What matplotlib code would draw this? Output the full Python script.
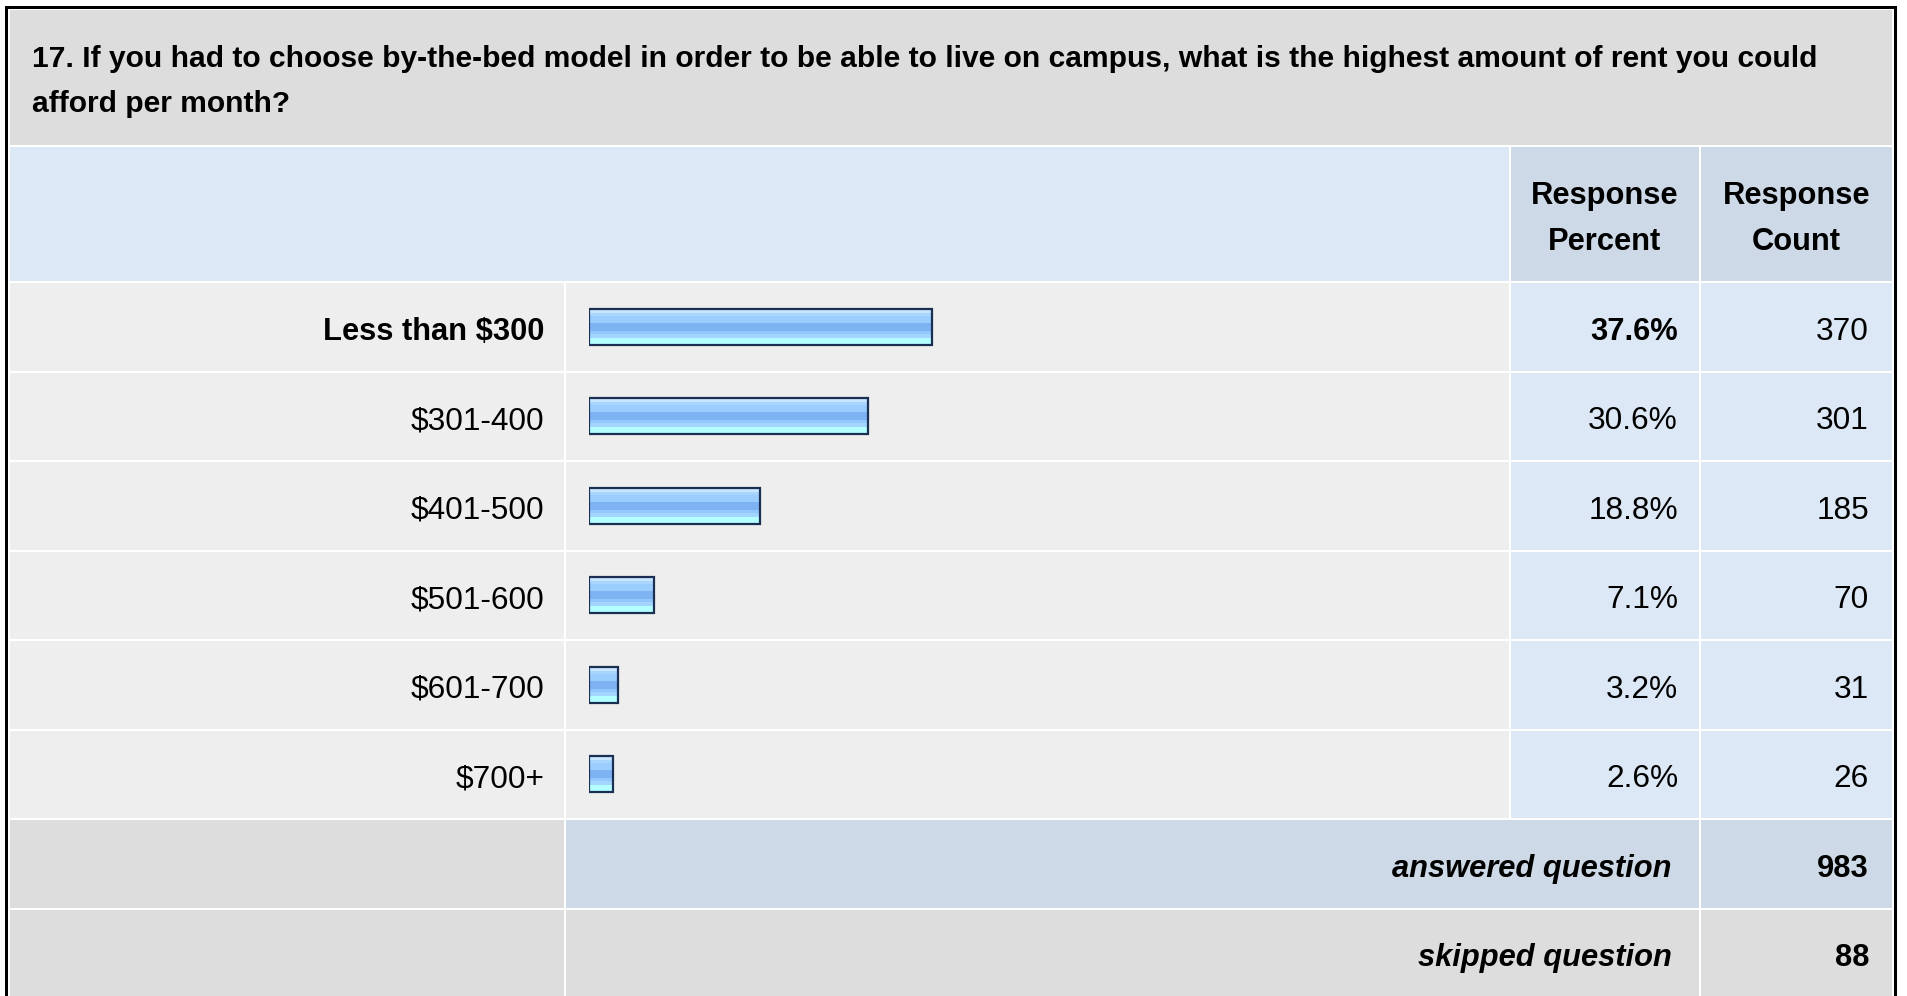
import numpy as np
import matplotlib
matplotlib.use("Agg")
import matplotlib.pyplot as plt
from matplotlib.patches import Rectangle

# survey results
question = ["17. If you had to choose by-the-bed model in order to be able to live on campus, what is the highest amount of rent you could",
            "afford per month?"]
options = ["Less than $300", "$301-400", "$401-500", "$501-600", "$601-700", "$700+"]
percent = [37.6, 30.6, 18.8, 7.1, 3.2, 2.6]
counts = [370, 301, 185, 70, 31, 26]
answered = 983
skipped = 88

W, H = 1907, 996
FONT = "Liberation Sans"

GRAY = "#dddddd"
ROW = "#eeeeee"
LBLUE = "#dce8f5"
DBLUE = "#cdd9e6"

fig = plt.figure(figsize=(W / 100, H / 100), dpi=100)
fig.patch.set_facecolor("white")
ax = fig.add_axes([0, 0, 1, 1])
ax.set_xlim(0, W)
ax.set_ylim(H, 0)
ax.axis("off")


def cell(x0, x1, y0, y1, color):
    ax.add_patch(Rectangle((x0, y0), x1 - x0, y1 - y0, facecolor=color, lw=0))


def txt(x, y, s, ha="left", weight="normal", style="normal", size=None):
    if size is None:
        size = 22.2 if weight == "bold" else 22.8
    ax.text(x, y, s, ha=ha, va="baseline", fontsize=size, family=FONT,
            fontweight=weight, fontstyle=style, color="#000000")


# outer frame
cell(5, 1897, 6, H + 20, "black")
cell(8, 1894, 9, H + 20, "white")

# column edges
c_lab = (10, 564)
c_bar = (566, 1509)
c_pct = (1511, 1699)
c_cnt = (1701, 1892)
pitch = 89.5
top = 283

# title
cell(10, 1892, 10, 145, GRAY)
txt(32, 67, question[0], weight="bold", size=21.6)
txt(32, 112, question[1], weight="bold", size=21.6)

# header
cell(10, 1509, 147, 281, LBLUE)
cell(*c_pct, 147, 281, DBLUE)
cell(*c_cnt, 147, 281, DBLUE)
for c, word in [(c_pct, "Percent"), (c_cnt, "Count")]:
    xc = (c[0] + c[1]) / 2
    txt(xc, 204, "Response", ha="center", weight="bold")
    txt(xc, 250, word, ha="center", weight="bold")

# data rows
top_idx = int(np.argmax(percent))
for i, (lab, p, n) in enumerate(zip(options, percent, counts)):
    y0 = top + i * pitch
    y1 = y0 + pitch - 2
    cell(*c_lab, y0, y1, ROW)
    cell(*c_bar, y0, y1, ROW)
    cell(*c_pct, y0, y1, LBLUE)
    cell(*c_cnt, y0, y1, LBLUE)
    base = (y0 + y1) / 2 + 13
    w = "bold" if i == top_idx else "normal"
    txt(544, base, lab, ha="right", weight=w)
    txt(1678, base, f"{p}%", ha="right", weight=w)
    txt(1869, base, str(n), ha="right")

# summary rows
y0 = top + len(options) * pitch
cell(*c_lab, y0, y0 + pitch - 2, GRAY)
cell(c_bar[0], c_pct[1], y0, y0 + pitch - 2, DBLUE)
cell(*c_cnt, y0, y0 + pitch - 2, DBLUE)
base = y0 + (pitch - 2) / 2 + 13
txt(1672, base, "answered question", ha="right", weight="bold", style="italic")
txt(1869, base, str(answered), ha="right", weight="bold")

y0 += pitch
cell(*c_lab, y0, H + 10, GRAY)
cell(c_bar[0], c_pct[1], y0, H + 10, GRAY)
cell(*c_cnt, y0, H + 10, GRAY)
base = y0 + (pitch - 2) / 2 + 13
txt(1672, base, "skipped question", ha="right", weight="bold", style="italic")
txt(1869, base, str(skipped), ha="right", weight="bold")

# bar axes: x in percent, 100% spans 912 px
nrow = len(options)
bx0, bw = 589, 912
by0, bh = top - 1, nrow * pitch
bax = fig.add_axes([bx0 / W, 1 - (by0 + bh) / H, bw / W, bh / H])
bax.axis("off")
bax.patch.set_alpha(0)

stripes = ["#c9e6ff", "#a9d6ff", "#9bcdff", "#9bcdff", "#7eb3f3", "#7eb3f3",
           "#93c7ff", "#a3d5ff", "#b4ffff", "#b4ffff"]
grad = np.array([[matplotlib.colors.to_rgb(c)] for c in stripes])

bars = bax.barh(np.arange(nrow), percent, height=0.4, color="none",
                edgecolor="#1b2f52", linewidth=1.6, zorder=3)
for b in bars:
    x, y, w, h = b.get_x(), b.get_y(), b.get_width(), b.get_height()
    im = bax.imshow(grad, extent=[x, x + w, y + h, y], aspect="auto",
                    interpolation="nearest", zorder=2)
    im.set_clip_path(b)
bax.set_xlim(0, 100)
bax.set_ylim(nrow - 0.5, -0.5)

fig.savefig("out.png", dpi=100)
